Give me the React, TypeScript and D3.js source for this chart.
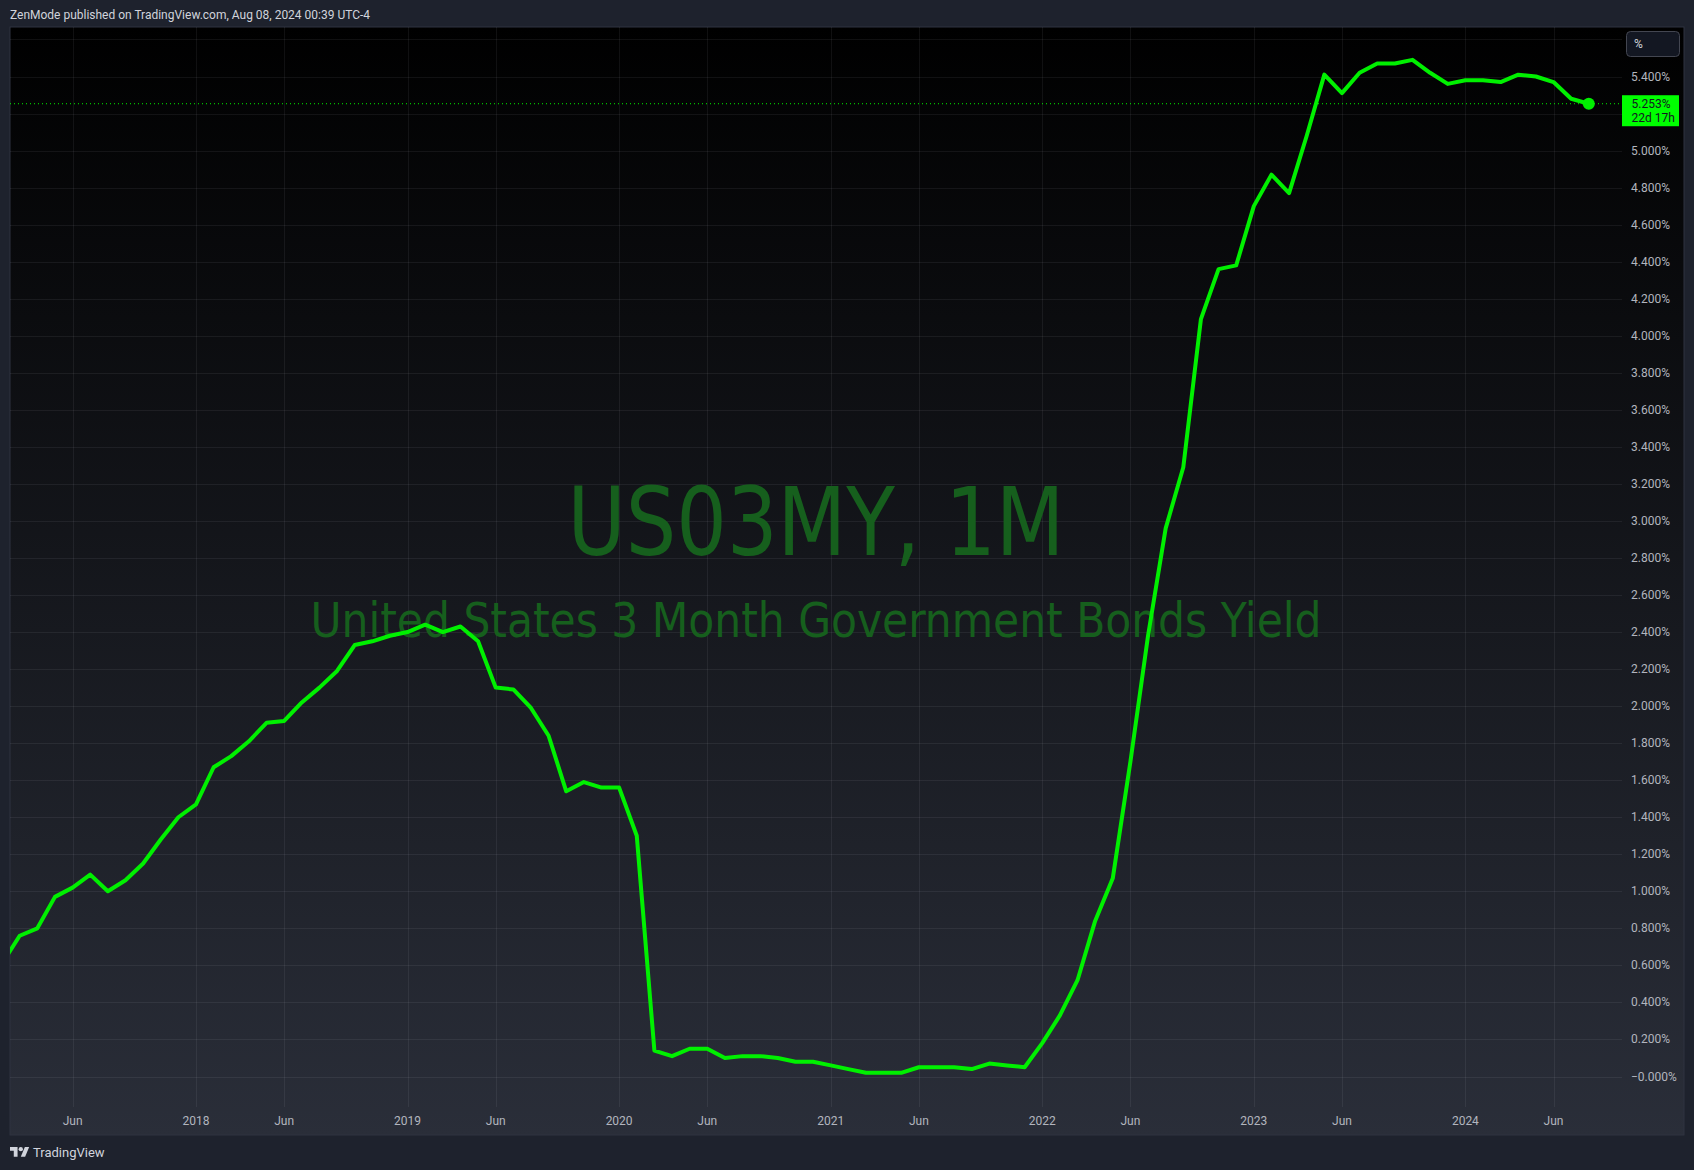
import React, { useEffect } from "react";
import * as d3 from "d3";

const W = 1694;
const H = 1170;

// monthly closes of US03MY in %, series starts Feb 2017
const startYear = 2017;
const startMonth = 2;
const y2017 = [0.61, 0.76, 0.8, 0.97, 1.02, 1.09, 1.0, 1.06, 1.15, 1.28, 1.4];
const y2018 = [1.47, 1.67, 1.73, 1.81, 1.91, 1.92, 2.02, 2.1, 2.19, 2.33, 2.35, 2.38];
const y2019 = [2.4, 2.44, 2.4, 2.43, 2.35, 2.1, 2.09, 1.99, 1.84, 1.54, 1.59, 1.56];
const y2020 = [1.56, 1.3, 0.14, 0.11, 0.15, 0.15, 0.1, 0.11, 0.11, 0.1, 0.08, 0.08];
const y2021 = [0.06, 0.04, 0.02, 0.02, 0.02, 0.05, 0.05, 0.05, 0.04, 0.07, 0.06, 0.05];
const y2022 = [0.18, 0.33, 0.52, 0.84, 1.07, 1.7, 2.38, 2.96, 3.29, 4.09, 4.36, 4.38];
const y2023 = [4.7, 4.87, 4.77, 5.08, 5.41, 5.31, 5.42, 5.47, 5.47, 5.49, 5.42, 5.36];
const y2024 = [5.38, 5.38, 5.37, 5.41, 5.4, 5.37, 5.28, 5.253];

const values = [...y2017, ...y2018, ...y2019, ...y2020, ...y2021, ...y2022, ...y2023, ...y2024];

const yGrid = [0, 0.2, 0.4, 0.6, 0.8, 1.0, 1.2, 1.4, 1.6, 1.8, 2.0, 2.2, 2.4, 2.6, 2.8, 3.0,
  3.2, 3.4, 3.6, 3.8, 4.0, 4.2, 4.4, 4.6, 4.8, 5.0, 5.2, 5.4, 5.6];
// 5.2 and 5.6 sit under the price badge / "%" button
const yLabels = yGrid.filter((v) => v !== 5.2 && v !== 5.6);

const xTicks = [
  { year: 2017, month: 6, label: "Jun" },
  { year: 2018, month: 1, label: "2018" },
  { year: 2018, month: 6, label: "Jun" },
  { year: 2019, month: 1, label: "2019" },
  { year: 2019, month: 6, label: "Jun" },
  { year: 2020, month: 1, label: "2020" },
  { year: 2020, month: 6, label: "Jun" },
  { year: 2021, month: 1, label: "2021" },
  { year: 2021, month: 6, label: "Jun" },
  { year: 2022, month: 1, label: "2022" },
  { year: 2022, month: 6, label: "Jun" },
  { year: 2023, month: 1, label: "2023" },
  { year: 2023, month: 6, label: "Jun" },
  { year: 2024, month: 1, label: "2024" },
  { year: 2024, month: 6, label: "Jun" },
];

const lastLabel = "5.253%";
const countdown = "22d 17h";

// panel geometry
const panel = { x0: 10, y0: 27, x1: 1684, y1: 1135 };
const plot = { x0: 10, y0: 27, x1: 1622, y1: 1107 };

const monthIdx = (year: number, month: number) => (year - 2018) * 12 + (month - 1);

const x = d3.scaleLinear().domain([0, 79]).range([196, 1588.8]);
const y = d3.scaleLinear().domain([0, 5.4]).range([1076.5, 76.5]);

const points = values.map((v, i) => ({
  m: monthIdx(startYear, startMonth) + i,
  v,
}));

const line = d3
  .line<{ m: number; v: number }>()
  .x((d) => x(d.m))
  .y((d) => y(d.v));

const gridColor = "rgba(240,243,250,0.065)";
const textColor = "#b2b5be";
const green = "#00f000";
const font = "Roboto, 'Noto Sans', sans-serif";

const App: React.FC = () => {
  useEffect(() => {
    document.body.style.margin = "0";
    document.body.style.background = "#1e222d";
  }, []);

  const last = points[points.length - 1];

  return (
    <svg width={W} height={H} style={{ display: "block" }} fontFamily={font}>
      <defs>
        <linearGradient id="bg" x1="0" y1="0" x2="0" y2="1">
          <stop offset="0%" stopColor="#000000" />
          <stop offset="100%" stopColor="#2a2e39" />
        </linearGradient>
        <clipPath id="plotClip">
          <rect x={plot.x0} y={plot.y0} width={plot.x1 - plot.x0} height={plot.y1 - plot.y0} />
        </clipPath>
      </defs>

      <rect width={W} height={H} fill="#1e222d" />
      <text x={10} y={18.5} fontSize={12} fill="#d1d4dc" textLength={360} lengthAdjust="spacingAndGlyphs">
        ZenMode published on TradingView.com, Aug 08, 2024 00:39 UTC-4
      </text>

      <rect
        x={panel.x0}
        y={panel.y0}
        width={panel.x1 - panel.x0}
        height={panel.y1 - panel.y0}
        fill="url(#bg)"
        stroke="#2f3340"
        strokeWidth={1}
      />

      {/* grid */}
      <g clipPath="url(#plotClip)">
        {yGrid.map((v) => (
          <line key={"h" + v} x1={plot.x0} x2={plot.x1} y1={Math.round(y(v)) + 0.5} y2={Math.round(y(v)) + 0.5} stroke={gridColor} />
        ))}
        {xTicks.map((t) => {
          const px = Math.round(x(monthIdx(t.year, t.month))) + 0.5;
          return <line key={"v" + t.year + t.month} x1={px} x2={px} y1={plot.y0} y2={plot.y1} stroke={gridColor} />;
        })}
      </g>

      {/* watermark */}
      <text
        x={(plot.x0 + plot.x1) / 2}
        y={555}
        textAnchor="middle"
        fontSize={94}
        fill="#165f1d"
        fontFamily="'Trebuchet MS', 'DejaVu Sans Condensed', Roboto, sans-serif"
        textLength={497}
        lengthAdjust="spacingAndGlyphs"
      >
        US03MY, 1M
      </text>
      <text
        x={(plot.x0 + plot.x1) / 2}
        y={637}
        textAnchor="middle"
        fontSize={48}
        fill="#165f1d"
        fontFamily="'Trebuchet MS', 'DejaVu Sans Condensed', Roboto, sans-serif"
        textLength={1011}
        lengthAdjust="spacingAndGlyphs"
      >
        United States 3 Month Government Bonds Yield
      </text>

      {/* series */}
      <g clipPath="url(#plotClip)">
        <line
          x1={plot.x0}
          x2={plot.x1}
          y1={y(last.v)}
          y2={y(last.v)}
          stroke={green}
          strokeWidth={1}
          strokeDasharray="1 3"
        />
        <path d={line(points) ?? ""} fill="none" stroke={green} strokeWidth={4} strokeLinejoin="round" />
        <circle cx={x(last.m)} cy={y(last.v)} r={6} fill={green} />
      </g>

      {/* price scale */}
      {yLabels.map((v) => (
        <text key={"l" + v} x={1631} y={y(v) + 4} fontSize={12} fill={textColor}>
          {(v === 0 ? "\u22120.000" : v.toFixed(3)) + "%"}
        </text>
      ))}

      <rect x={1626.5} y={31.5} width={53} height={25} rx={4} fill="#131722" stroke="#434651" />
      <text x={1634} y={48} fontSize={12} fill="#d1d4dc">%</text>

      <rect x={1622} y={y(last.v) - 8.5} width={57} height={31} fill="#00ff00" />
      <text x={1631.5} y={y(last.v) + 4} fontSize={12} fill="#131722">{lastLabel}</text>
      <text x={1631.5} y={y(last.v) + 18} fontSize={12} fill="#131722">{countdown}</text>

      {/* time scale */}
      {xTicks.map((t) => (
        <text
          key={"t" + t.year + t.month}
          x={x(monthIdx(t.year, t.month))}
          y={1125}
          textAnchor="middle"
          fontSize={12}
          fill={textColor}
        >
          {t.label}
        </text>
      ))}

      {/* footer logo */}
      <g transform="translate(10,1147) scale(0.54)" fill="#d1d4dc">
        <path d="M14 22H7V11H0V4h14v18z" transform="translate(0,-4)" />
        <circle cx={20} cy={4} r={4} />
        <path d="M28 18h-8l7.5-18h8L28 18z" />
      </g>
      <text x={33} y={1157} fontSize={13} fill="#d1d4dc">TradingView</text>
    </svg>
  );
};

export default App;
